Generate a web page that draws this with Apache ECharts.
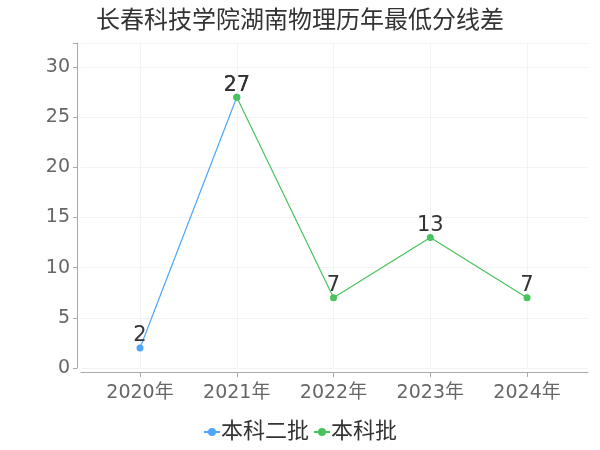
<!DOCTYPE html>
<html>
<head>
<meta charset="utf-8">
<style>
  html, body { margin: 0; padding: 0; background: #fff; }
  #chart { width: 600px; height: 450px; }
</style>
<script src="https://cdn.jsdelivr.net/npm/echarts@6/dist/echarts.min.js"></script>
</head>
<body>
<div id="chart"></div>
<script>
var years = ['2020年', '2021年', '2022年', '2023年', '2024年'];
var seriesNames = ['本科二批', '本科批'];
var erpiValues = [2, 27, null, null, null];
var benkepiValues = [null, 27, 7, 13, 7];
var yTicks = [0, 5, 10, 15, 20, 25, 30];

var chartDom = document.getElementById('chart');
var myChart = echarts.init(chartDom);

var toPoints = function (values) {
    return values.map(function (v, i) {
        return [i, v === null ? '-' : v];
    });
};

var labelStyle = {
    show: true,
    position: 'top',
    distance: -2,
    fontSize: 21,
    color: '#333'
};

var option = {
    color: ['#4ea6fb', '#49c35b'],
    textStyle: {
        fontFamily: 'DejaVu Sans, Noto Sans CJK SC, sans-serif'
    },
    title: {
        text: '长春科技学院湖南物理历年最低分线差',
        left: 'center',
        top: 5,
        textStyle: {
            fontSize: 24,
            fontWeight: 'normal',
            color: '#333'
        }
    },
    legend: {
        bottom: 2,
        left: 'center',
        itemGap: 4,
        itemWidth: 16,
        itemHeight: 10,
        textStyle: {
            fontSize: 22,
            color: '#333',
            padding: [0, 0, 0, -4]
        }
    },
    grid: {
        left: 81,
        right: 12,
        top: 43,
        bottom: 82
    },
    xAxis: {
        type: 'value',
        min: -0.61,
        max: 4.63,
        offset: 4,
        axisLine: {
            show: true,
            onZero: false,
            lineStyle: { color: '#aaa' }
        },
        axisTick: {
            show: true,
            customValues: [0, 1, 2, 3, 4],
            lineStyle: { color: '#aaa' }
        },
        axisLabel: {
            customValues: [0, 1, 2, 3, 4],
            fontSize: 19,
            color: '#666',
            margin: 12,
            formatter: function (v) { return years[Math.round(v)]; }
        },
        splitLine: {
            show: true,
            lineStyle: { color: '#f3f3f3' }
        }
    },
    yAxis: {
        type: 'value',
        min: 0,
        max: 32.4,
        interval: 5,
        offset: 4,
        axisLine: {
            show: true,
            onZero: false,
            lineStyle: { color: '#aaa' }
        },
        axisTick: {
            show: true,
            length: 4,
            lineStyle: { color: '#aaa' }
        },
        axisLabel: {
            fontSize: 19,
            color: '#666',
            margin: 7,
            customValues: yTicks
        },
        splitLine: {
            lineStyle: { color: '#f3f3f3' }
        }
    },
    series: [
        {
            name: seriesNames[0],
            type: 'line',
            symbol: 'circle',
            symbolSize: 7,
            lineStyle: { width: 1.2 },
            label: labelStyle,
            data: toPoints(erpiValues)
        },
        {
            name: seriesNames[1],
            type: 'line',
            symbol: 'circle',
            symbolSize: 7,
            lineStyle: { width: 1.2 },
            label: labelStyle,
            data: toPoints(benkepiValues)
        }
    ]
};

myChart.setOption(option);
</script>
</body>
</html>
